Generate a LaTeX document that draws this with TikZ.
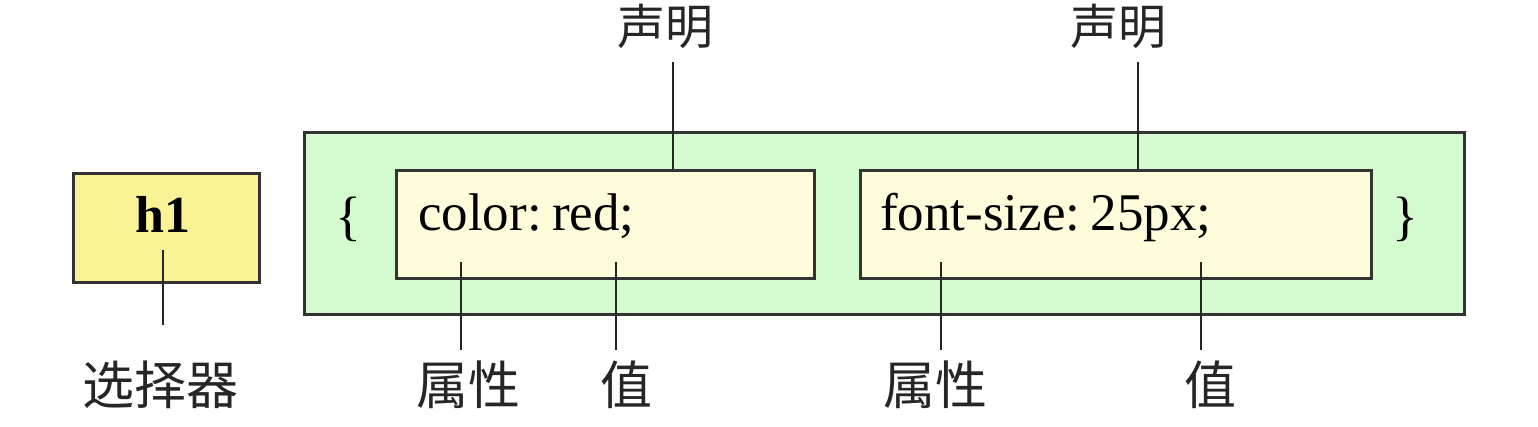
\documentclass[tikz,border=0pt]{standalone}
\usepackage{fontspec}
\setmainfont{Liberation Serif}
\newfontfamily\cjk{Noto Sans CJK SC}
\begin{document}
\begin{tikzpicture}[x=1pt,y=-1pt,
  boxline/.style={draw=black!80,line width=2.6pt},
  conn/.style={draw=black!85,line width=2pt},
  code/.style={font=\fontsize{53}{53}\selectfont,inner sep=0pt,anchor=base west},
  lab/.style={font=\cjk\fontsize{52}{52}\selectfont,inner sep=0pt,text=black!85}]
\definecolor{selyel}{RGB}{249,243,150}
\definecolor{declgreen}{RGB}{212,250,208}
\definecolor{declyel}{RGB}{255,252,220}
\useasboundingbox[fill=white] (0,0) rectangle (1538,426);
% selector
\node[boxline,fill=selyel,minimum width=186pt,minimum height=109pt,inner sep=0pt,anchor=north west] (sel) at (72,172) {};
\node[font=\bfseries\fontsize{52}{52}\selectfont,inner sep=0pt,anchor=base] (h1) at (163,232) {h1};
\coordinate (selin) at (163,250);
\node[lab] (sellab) at (160,385) {选择器};
\draw[conn] (selin) -- (selin |- 0,325);
% declaration block
\node[boxline,fill=declgreen,minimum width=1160pt,minimum height=182pt,inner sep=0pt,anchor=north west] (block) at (303,131) {};
\node[font=\fontsize{54}{54}\selectfont,inner sep=0pt,anchor=base] (lb) at (348,234) {\{};
\node[font=\fontsize{54}{54}\selectfont,inner sep=0pt,anchor=base] (rb) at (1405,234) {\}};
\node[boxline,fill=declyel,minimum width=418pt,minimum height=108pt,inner sep=0pt,anchor=north west] (d1) at (395,169) {};
\node[boxline,fill=declyel,minimum width=511pt,minimum height=108pt,inner sep=0pt,anchor=north west] (d2) at (859,169) {};
\node[code] (t1) at (418,230) {color:\kern-3pt\ red;};
\node[code] (t2) at (880,230) {font-size:\kern-3pt\ 25px;};
% top labels
\node[lab,font=\cjk\fontsize{48}{48}\selectfont] (s1) at (665,26) {声明};
\node[lab,font=\cjk\fontsize{48}{48}\selectfont] (s2) at (1118,26) {声明};
\coordinate (s1b) at (673,62);
\coordinate (s2b) at (1138,62);
\draw[conn] (s1b) -- (s1b |- d1.north);
\draw[conn] (s2b) -- (s2b |- d2.north);
% bottom labels
\node[lab] (p1) at (468,385) {属性};
\node[lab] (v1) at (626,385) {值};
\node[lab] (p2) at (935,385) {属性};
\node[lab] (v2) at (1210,385) {值};
\coordinate (p1t) at (461,262);
\coordinate (v1t) at (616,262);
\coordinate (p2t) at (941,262);
\coordinate (v2t) at (1201,262);
\draw[conn] (p1t) -- (p1t |- 0,350);
\draw[conn] (v1t) -- (v1t |- 0,350);
\draw[conn] (p2t) -- (p2t |- 0,350);
\draw[conn] (v2t) -- (v2t |- 0,350);
\end{tikzpicture}
\end{document}
